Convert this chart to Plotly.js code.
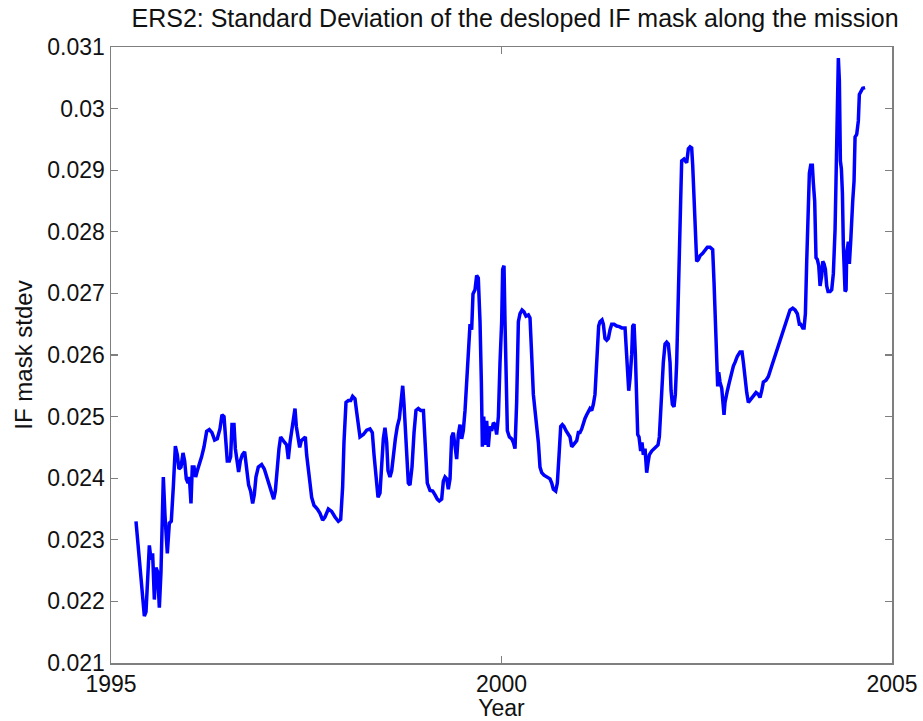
<!DOCTYPE html>
<html>
<head>
<meta charset="utf-8">
<script src="https://cdn.plot.ly/plotly-3.0.1.min.js"></script>
<style>html,body{margin:0;padding:0;background:#fff;}#chart{width:923px;height:721px;}</style>
</head>
<body>
<div id="chart"></div>
<script>
const years = [
1995.320,1995.427,1995.448,1995.491,1995.512,1995.533,1995.555,1995.576,1995.597,1995.619,
1995.640,1995.670,1995.691,1995.721,1995.747,1995.772,1995.798,1995.824,1995.849,1995.870,
1995.896,1995.922,1995.943,1995.964,1995.986,1996.003,1996.024,1996.041,1996.063,1996.084,
1996.105,1996.131,1996.161,1996.191,1996.225,1996.259,1996.293,1996.327,1996.361,1996.395,
1996.421,1996.447,1996.468,1996.489,1996.515,1996.532,1996.549,1996.575,1996.592,1996.613,
1996.634,1996.656,1996.681,1996.711,1996.737,1996.762,1996.788,1996.814,1996.835,1996.856,
1996.886,1996.929,1996.963,1996.993,1997.027,1997.057,1997.083,1997.104,1997.125,1997.151,
1997.172,1997.198,1997.223,1997.249,1997.270,1997.292,1997.317,1997.339,1997.356,1997.373,
1997.394,1997.416,1997.437,1997.462,1997.488,
1997.505,1997.527,1997.548,1997.569,1997.599,1997.642,1997.676,1997.710,1997.740,1997.783,
1997.825,1997.868,1997.911,1997.941,1997.966,1997.983,1998.009,1998.039,1998.069,1998.094,
1998.124,1998.146,1998.167,1998.188,1998.231,1998.274,1998.316,1998.346,1998.368,1998.393,
1998.419,1998.444,1998.466,1998.487,1998.508,1998.530,1998.547,1998.572,1998.594,1998.615,
1998.641,1998.666,1998.692,1998.713,1998.735,1998.752,1998.769,1998.786,1998.807,1998.828,
1998.854,1998.880,1998.905,1998.935,1998.965,1999.000,1999.021,1999.050,1999.085,1999.119,
1999.149,1999.178,1999.204,1999.234,1999.255,1999.277,1999.298,1999.319,1999.341,1999.362,
1999.383,1999.405,1999.426,1999.447,1999.469,1999.490,1999.511,1999.533,1999.554,1999.575,
1999.597,1999.618,1999.635,1999.661,1999.682,1999.703,1999.725,1999.742,1999.755,1999.772,
1999.793,1999.810,1999.831,1999.853,
1999.874,1999.896,1999.917,1999.938,1999.960,1999.981,2000.002,2000.015,2000.032,2000.045,
2000.058,2000.075,2000.101,2000.130,2000.152,2000.173,2000.194,2000.216,2000.237,2000.263,
2000.288,2000.314,2000.344,2000.365,2000.386,2000.408,2000.429,2000.451,2000.472,2000.493,
2000.515,2000.544,2000.579,2000.621,2000.643,2000.664,2000.694,2000.715,2000.737,2000.758,
2000.779,2000.800,2000.826,2000.856,2000.877,2000.899,2000.920,2000.941,2000.963,2000.984,
2001.005,2001.027,2001.048,2001.069,2001.091,2001.112,2001.133,2001.155,2001.176,2001.197,
2001.210,2001.227,2001.244,2001.261,2001.287,2001.304,2001.325,2001.347,2001.368,2001.390,
2001.411,2001.441,2001.475,2001.509,2001.539,2001.582,2001.594,2001.611,2001.629,2001.646,
2001.667,2001.680,2001.697,2001.714,2001.731,2001.744,2001.761,2001.782,2001.799,2001.816,
2001.838,2001.859,2001.876,2001.893,2001.923,2001.953,2001.978,2002.004,2002.021,2002.038,
2002.055,2002.072,2002.094,2002.115,2002.136,2002.158,2002.171,2002.188,2002.209,2002.226,
2002.243,2002.260,2002.277,2002.294,
2002.307,2002.337,2002.371,2002.393,2002.414,2002.435,2002.448,2002.465,2002.482,2002.499,
2002.521,2002.542,2002.576,2002.606,2002.636,2002.670,2002.704,2002.721,2002.738,2002.747,
2002.755,2002.768,2002.781,2002.798,2002.820,2002.832,2002.849,2002.862,2002.875,2002.892,
2002.918,2002.948,2002.969,2002.990,2003.020,2003.054,2003.080,2003.097,2003.118,2003.140,
2003.161,2003.182,2003.216,2003.259,2003.289,2003.310,2003.332,2003.353,2003.387,2003.417,
2003.460,2003.502,2003.545,2003.588,2003.630,2003.660,2003.694,2003.729,2003.759,2003.788,
2003.814,2003.831,2003.857,2003.874,2003.891,2003.908,2003.929,2003.942,2003.959,2003.980,
2003.993,2004.010,2004.027,2004.044,2004.062,2004.079,2004.100,2004.113,2004.130,2004.147,
2004.164,2004.181,2004.207,2004.228,2004.249,2004.271,2004.283,2004.300,2004.313,2004.326,
2004.339,2004.352,2004.365,2004.377,2004.390,2004.399,2004.412,2004.420,2004.441,2004.454,
2004.471,2004.484,2004.497,2004.514,2004.527,2004.548,2004.569,2004.582,2004.604,2004.625,
2004.655
];
const stdev = [
0.02330,0.02176,0.02183,0.02291,0.02268,0.02278,0.02203,0.02255,0.02248,0.02190,
0.02248,0.02402,0.02340,0.02278,0.02327,0.02330,0.02386,0.02452,0.02438,0.02415,
0.02418,0.02441,0.02428,0.02399,0.02392,0.02402,0.02359,0.02418,0.02418,0.02402,
0.02412,0.02422,0.02435,0.02451,0.02476,0.02479,0.02474,0.02462,0.02464,0.02480,
0.02503,0.02500,0.02471,0.02428,0.02428,0.02435,0.02487,0.02487,0.02448,0.02431,
0.02410,0.02428,0.02438,0.02443,0.02412,0.02389,0.02379,0.02359,0.02373,0.02402,
0.02418,0.02422,0.02415,0.02402,0.02389,0.02376,0.02366,0.02379,0.02412,0.02448,
0.02467,0.02461,0.02458,0.02454,0.02431,0.02458,0.02480,0.02493,0.02513,0.02484,
0.02464,0.02450,0.02461,0.02464,0.02467,
0.02438,0.02418,0.02392,0.02369,0.02356,0.02350,0.02343,0.02332,0.02337,0.02350,
0.02346,0.02337,0.02330,0.02333,0.02386,0.02458,0.02523,0.02526,0.02526,0.02533,
0.02529,0.02507,0.02484,0.02467,0.02471,0.02478,0.02480,0.02474,0.02438,0.02399,
0.02369,0.02376,0.02418,0.02464,0.02482,0.02458,0.02412,0.02402,0.02412,0.02438,
0.02464,0.02484,0.02497,0.02523,0.02550,0.02520,0.02480,0.02431,0.02392,0.02389,
0.02418,0.02474,0.02510,0.02513,0.02510,0.02510,0.02451,0.02392,0.02380,0.02379,
0.02373,0.02366,0.02363,0.02366,0.02395,0.02402,0.02399,0.02382,0.02399,0.02467,
0.02474,0.02451,0.02431,0.02471,0.02487,0.02464,0.02477,0.02510,0.02556,0.02608,
0.02650,0.02641,0.02699,0.02706,0.02729,0.02725,0.02654,0.02556,0.02451,0.02500,
0.02454,0.02493,0.02451,0.02484,
0.02477,0.02490,0.02487,0.02471,0.02500,0.02588,0.02654,0.02739,0.02745,0.02654,
0.02575,0.02477,0.02467,0.02464,0.02458,0.02448,0.02523,0.02654,0.02667,0.02673,
0.02670,0.02663,0.02665,0.02660,0.02601,0.02536,0.02510,0.02484,0.02458,0.02418,
0.02409,0.02405,0.02402,0.02399,0.02392,0.02382,0.02379,0.02392,0.02438,0.02484,
0.02487,0.02484,0.02477,0.02471,0.02467,0.02451,0.02454,0.02458,0.02461,0.02474,
0.02474,0.02480,0.02490,0.02497,0.02503,0.02510,0.02513,0.02510,0.02520,0.02536,
0.02569,0.02614,0.02647,0.02654,0.02657,0.02650,0.02627,0.02624,0.02627,0.02641,
0.02650,0.02650,0.02647,0.02646,0.02644,0.02644,0.02614,0.02569,0.02542,0.02562,
0.02601,0.02647,0.02650,0.02601,0.02523,0.02471,0.02467,0.02444,0.02458,0.02438,
0.02448,0.02409,0.02425,0.02438,0.02444,0.02448,0.02451,0.02454,0.02467,0.02510,
0.02549,0.02588,0.02618,0.02621,0.02618,0.02588,0.02542,0.02520,0.02516,0.02536,
0.02588,0.02660,0.02758,0.02850,
0.02915,0.02918,0.02912,0.02935,0.02938,0.02936,0.02908,0.02863,0.02810,0.02752,
0.02755,0.02761,0.02765,0.02771,0.02775,0.02775,0.02771,0.02719,0.02654,0.02588,
0.02556,0.02549,0.02572,0.02556,0.02546,0.02523,0.02503,0.02523,0.02536,0.02542,
0.02556,0.02575,0.02582,0.02588,0.02598,0.02605,0.02605,0.02588,0.02562,0.02539,
0.02523,0.02526,0.02533,0.02539,0.02536,0.02531,0.02542,0.02556,0.02559,0.02565,
0.02582,0.02598,0.02614,0.02631,0.02647,0.02660,0.02673,0.02676,0.02673,0.02667,
0.02650,0.02650,0.02644,0.02644,0.02667,0.02752,0.02850,0.02895,0.02908,0.02908,
0.02879,0.02850,0.02758,0.02755,0.02745,0.02712,0.02729,0.02752,0.02748,0.02739,
0.02712,0.02703,0.02703,0.02706,0.02732,0.02804,0.02882,0.02993,0.03082,0.03046,
0.02915,0.02902,0.02863,0.02778,0.02732,0.02703,0.02706,0.02765,0.02784,0.02748,
0.02784,0.02837,0.02850,0.02882,0.02954,0.02958,0.02980,0.03023,0.03029,0.03033,
0.03034
];
const xTickVals = [1995, 2000, 2005];
const xTickText = ['1995', '2000', '2005'];
const yTickVals = [0.021,0.022,0.023,0.024,0.025,0.026,0.027,0.028,0.029,0.030,0.031];
const yTickText = ['0.021','0.022','0.023','0.024','0.025','0.026','0.027','0.028','0.029','0.03','0.031'];

const FONT = 'Liberation Sans, Arial, sans-serif';
const axisCommon = {
  showgrid: false, zeroline: false,
  showline: true, linecolor: '#7f7f7f', linewidth: 1.5,
  mirror: 'ticks', ticks: 'inside', ticklen: 7, tickwidth: 1.2, tickcolor: '#7f7f7f',
  tickfont: {family: FONT, size: 23, color: '#111'}
};
const trace = {
  x: years, y: stdev, type: 'scatter', mode: 'lines',
  line: {color: '#0000ff', width: 3.5},
  hoverinfo: 'skip'
};
const layout = {
  width: 923, height: 721,
  margin: {l: 111, r: 31, t: 47, b: 58},
  paper_bgcolor: '#fff', plot_bgcolor: '#fff',
  showlegend: false,
  title: {text: 'ERS2: Standard Deviation of the desloped IF mask along the mission',
          font: {family: FONT, size: 25, color: '#111'},
          xref: 'container', x: 0.558, xanchor: 'center',
          yref: 'container', y: 1 - 18/721, yanchor: 'middle'},
  xaxis: Object.assign({}, axisCommon, {
    range: [1995, 2005], tickvals: xTickVals, ticktext: xTickText,
    title: {text: 'Year', font: {family: FONT, size: 23, color: '#111'}, standoff: 7}
  }),
  yaxis: Object.assign({}, axisCommon, {
    range: [0.021, 0.031], tickvals: yTickVals, ticktext: yTickText,
    title: {text: 'IF mask stdev', font: {family: FONT, size: 24, color: '#111'}, standoff: 8}
  })
};
Plotly.newPlot('chart', [trace], layout, {displayModeBar: false, staticPlot: true});
</script>
</body>
</html>
